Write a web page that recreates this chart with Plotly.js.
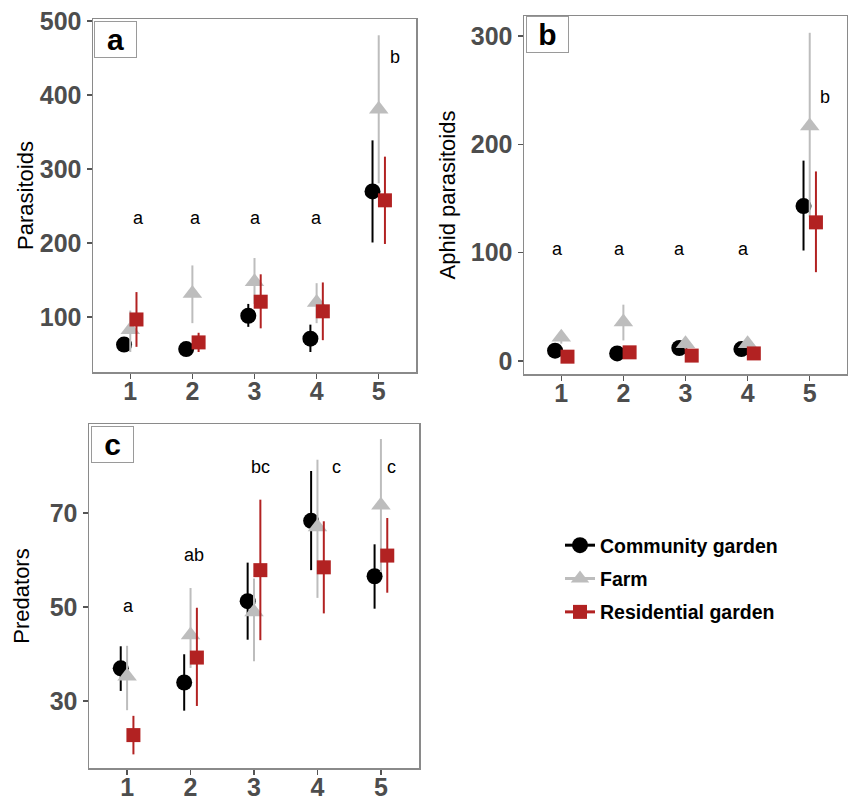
<!DOCTYPE html>
<html>
<head>
<meta charset="utf-8">
<script src="https://cdn.plot.ly/plotly-3.0.1.min.js"></script>
<style>html,body{margin:0;padding:0;background:#fff;}#chart{width:848px;height:799px;}</style>
</head>
<body>
<div id="chart"></div>
<script>
// ---------- DATA ----------
const categories = [1, 2, 3, 4, 5];
const tickLabels = ['1', '2', '3', '4', '5'];
const seriesNames = ['Community garden', 'Farm', 'Residential garden'];

// Panel a: Parasitoids (mean, lower, upper)
const parCG   = [63, 57, 102, 71, 270];
const parCGlo = [56, 49, 87, 53, 201];
const parCGhi = [70, 66, 118, 90, 339];
const parFA   = [83, 132, 148, 120, 381];
const parFAlo = [53, 92, 118, 92, 281];
const parFAhi = [109, 170, 180, 146, 481];
const parRG   = [97, 66, 121, 108, 258];
const parRGlo = [60, 53, 85, 69, 199];
const parRGhi = [134, 79, 158, 147, 317];
const parLetters = ['a', 'a', 'a', 'a', 'b'];
const parLetterY = [234, 234, 234, 234, 452];
const parTicks = [100, 200, 300, 400, 500];

// Panel b: Aphid parasitoids
const aphCG   = [9.5, 7, 12, 11, 143];
const aphCGlo = [6, 4, 8, 6, 102];
const aphCGhi = [13, 10, 16, 15, 185];
const aphFA   = [22, 36, 16, 16, 217];
const aphFAlo = [16, 19, 11, 12, 133];
const aphFAhi = [28, 52, 21, 20, 303];
const aphRG   = [4, 8, 5, 7, 128];
const aphRGlo = [2, 5, 3, 4, 82];
const aphRGhi = [6, 11, 7, 10, 175];
const aphLetters = ['a', 'a', 'a', 'a', 'b'];
const aphLetterY = [103, 103, 103, 103, 244];
const aphTicks = [0, 100, 200, 300];

// Panel c: Predators
const preCG   = [36.9, 33.9, 51.2, 68.3, 56.5];
const preCGlo = [32.1, 27.9, 43.0, 57.8, 49.6];
const preCGhi = [41.6, 39.9, 59.4, 78.9, 63.3];
const preFA   = [35.2, 44.0, 48.9, 67.0, 71.6];
const preFAlo = [28.0, 37.0, 38.4, 51.9, 57.4];
const preFAhi = [41.7, 54.0, 56.0, 81.3, 85.7];
const preRG   = [22.7, 39.2, 57.8, 58.4, 60.9];
const preRGlo = [18.6, 28.9, 42.9, 48.6, 53.0];
const preRGhi = [26.8, 49.8, 72.8, 68.2, 68.9];
const preLetters = ['a', 'ab', 'bc', 'c', 'c'];
const preLetterY = [50.1, 61.0, 79.8, 79.8, 79.8];
const preTicks = [30, 50, 70];

// ---------- STYLE ----------
const FONT = 'Liberation Sans, Arial, Helvetica, sans-serif';
const colors = ['#000000', '#bdbdbd', '#b22222'];
const symbols = ['circle', 'triangle-up', 'square'];
const sizes = [16, 17, 14];
const dodge = [-0.1, 0, 0.1];
const W = 848, H = 799;

// letter x-offsets (layout positions)
const parLetterDx = [0.13, 0.05, 0.02, 0.0, 0.26];
const aphLetterDx = [-0.06, -0.06, -0.1, -0.06, 0.24];
const preLetterDx = [0.03, 0.05, 0.1, 0.3, 0.16];

function px2x(a, b) { return [a / W, b / W]; }
function px2y(top, bottom) { return [1 - bottom / H, 1 - top / H]; }

function makeTraces(means, los, his, xa, ya) {
  return means.map((m, s) => ({
    type: 'scatter', mode: 'markers',
    x: categories.map(c => c + dodge[s]), y: m,
    xaxis: xa, yaxis: ya, showlegend: false, name: seriesNames[s],
    marker: { color: colors[s], symbol: symbols[s], size: sizes[s], line: { width: 0 } },
    error_y: {
      type: 'data', symmetric: false,
      array: m.map((v, i) => his[s][i] - v),
      arrayminus: m.map((v, i) => v - los[s][i]),
      color: colors[s], thickness: 2, width: 0
    }
  }));
}

const traces = [
  ...makeTraces([parCG, parFA, parRG], [parCGlo, parFAlo, parRGlo], [parCGhi, parFAhi, parRGhi], 'x', 'y'),
  ...makeTraces([aphCG, aphFA, aphRG], [aphCGlo, aphFAlo, aphRGlo], [aphCGhi, aphFAhi, aphRGhi], 'x2', 'y2'),
  ...makeTraces([preCG, preFA, preRG], [preCGlo, preFAlo, preRGlo], [preCGhi, preFAhi, preRGhi], 'x3', 'y3'),
];
// legend entries
seriesNames.forEach((n, s) => traces.push({
  type: 'scatter', mode: 'lines+markers', x: [null], y: [null], name: n,
  legendgroup: 'g' + s, xaxis: 'x', yaxis: 'y',
  line: { color: colors[s], width: 3 },
  marker: { color: colors[s], symbol: symbols[s], size: sizes[s] }
}));

function xaxisDef(dom, anchor) {
  return {
    domain: dom, anchor: anchor, range: [0.4, 5.6],
    tickvals: categories, ticktext: tickLabels,
    showgrid: false, zeroline: false, showline: true, mirror: true,
    linecolor: '#8a8a8a', linewidth: 1.5,
    ticks: 'outside', ticklen: 5, tickwidth: 1.5, tickcolor: '#555',
    ticklabelstandoff: -9,
    tickfont: { family: FONT, size: 25, color: '#4d4d4d', weight: 'bold' },
    automargin: false, fixedrange: true
  };
}
function yaxisDef(dom, anchor, range, ticks, title, standoff) {
  return {
    domain: dom, anchor: anchor, range: range, tickvals: ticks,
    showgrid: false, zeroline: false, showline: true, mirror: true,
    linecolor: '#8a8a8a', linewidth: 1.5,
    ticks: 'outside', ticklen: 5, tickwidth: 1.5, tickcolor: '#555',
    tickfont: { family: FONT, size: 25, color: '#4d4d4d', weight: 'bold' },
    title: { text: title, font: { family: FONT, size: 22, color: '#000' }, standoff: standoff },
    automargin: false, fixedrange: true
  };
}

const annotations = [];
function letters(arr, ys, dx, xa, ya) {
  arr.forEach((t, i) => annotations.push({
    text: t, x: categories[i] + dx[i], y: ys[i], xref: xa, yref: ya,
    showarrow: false, font: { family: FONT, size: 18, color: '#000' }
  }));
}
letters(parLetters, parLetterY, parLetterDx, 'x', 'y');
letters(aphLetters, aphLetterY, aphLetterDx, 'x2', 'y2');
letters(preLetters, preLetterY, preLetterDx, 'x3', 'y3');

function panelLabel(t, xa, ya, xs, ys) {
  annotations.push({
    text: '<b>' + t + '</b>', xref: xa + ' domain', yref: ya + ' domain', x: 0, y: 1,
    xanchor: 'left', yanchor: 'top', xshift: xs, yshift: ys, showarrow: false,
    width: 41, height: 35, borderpad: 0, borderwidth: 1, bordercolor: '#9a9a9a', bgcolor: '#fff',
    font: { family: FONT, size: 30, color: '#000' }
  });
}
panelLabel('a', 'x', 'y', 1, -2);
panelLabel('b', 'x2', 'y2', 2, 0);
panelLabel('c', 'x3', 'y3', 2, -2);

const layout = {
  width: W, height: H, margin: { l: 0, r: 0, t: 0, b: 0 },
  paper_bgcolor: '#fff', plot_bgcolor: '#fff',
  font: { family: FONT },
  xaxis: xaxisDef(px2x(93, 416), 'y'),
  yaxis: yaxisDef(px2y(19, 372), 'x', [26, 503], parTicks, 'Parasitoids', 0),
  xaxis2: xaxisDef(px2x(524, 847), 'y2'),
  yaxis2: yaxisDef(px2y(16, 374), 'x2', [-12, 318.5], aphTicks, 'Aphid parasitoids', 9),
  xaxis3: xaxisDef(px2x(89, 419), 'y3'),
  yaxis3: yaxisDef(px2y(424, 768), 'x3', [15.7, 88.9], preTicks, 'Predators', 14),
  showlegend: true,
  legend: {
    x: 560 / W, y: 1 - 526 / H, xanchor: 'left', yanchor: 'top',
    bgcolor: 'rgba(0,0,0,0)', borderwidth: 0, tracegroupgap: 5,
    font: { family: FONT, size: 19.5, color: '#000', weight: 'bold' }
  },
  annotations: annotations
};

Plotly.newPlot('chart', traces, layout, { staticPlot: true, displayModeBar: false });
</script>
</body>
</html>
